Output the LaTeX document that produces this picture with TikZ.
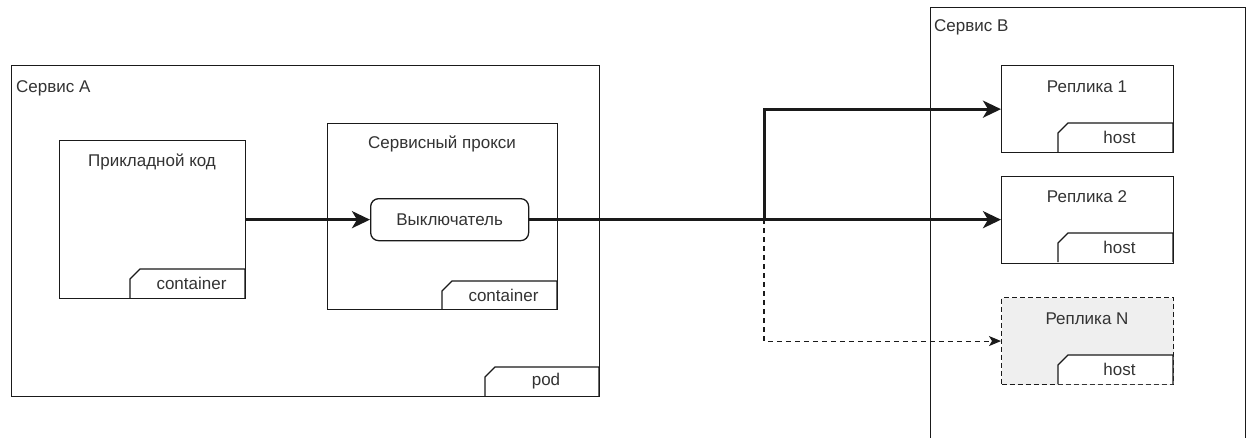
\documentclass[tikz,border=0pt]{standalone}
\usepackage{fontspec}
\setmainfont{Liberation Sans}
\usetikzlibrary{arrows.meta}
\definecolor{ink}{HTML}{1A1A1A}
\definecolor{txt}{HTML}{333333}
\definecolor{ghost}{HTML}{EFEFEF}
\newcommand\tabshape[6]{%
  \draw[tabline] (#1,#4) -- (#1,#2+10) -- (#1+10,#2) -- (#3,#2) -- (#3,#4);
  \node[lbl] (#6) at ({(#1+#3)/2+4},{(#2+#4)/2}) {#5};}
\begin{document}
\begin{tikzpicture}[x=1pt,y=-1pt,
  box/.style={draw=ink, line width=1.3pt, fill=white, inner sep=0pt, anchor=north west},
  tabline/.style={draw=ink, line width=1.3pt},
  lbl/.style={font=\fontsize{17}{20}\selectfont, text=txt, inner sep=0pt},
  main/.style={draw=ink, line width=3pt, -{Stealth[length=18pt,width=17pt,inset=5pt]}},
  dasharrow/.style={draw=ink, line width=1.1pt, dash pattern=on 5pt off 4pt, -{Stealth[length=12pt,width=10pt,inset=3pt]}}
]
\useasboundingbox (0,0) rectangle (1251,437);
\clip (0,0) rectangle (1251,437);
% Service A
\node[box, minimum width=588pt, minimum height=331pt] (sa) at (11,65) {};
\node[lbl, anchor=west] (salbl) at (16,88) {Сервис A};
\tabshape{485}{367}{599}{396}{pod}{podlbl}
% application code
\node[box, minimum width=186pt, minimum height=158pt] (code) at (59,140) {};
\node[lbl] (codelbl) at (152,162) {Прикладной код};
\tabshape{130}{269}{245}{298}{container}{c1lbl}
% service proxy
\node[box, minimum width=230pt, minimum height=186pt] (proxy) at (327,123) {};
\node[lbl] (proxylbl) at (442,144) {Сервисный прокси};
\tabshape{442}{281}{557}{309}{container}{c2lbl}
\node[box, rounded corners=8pt, minimum width=158pt, minimum height=42pt] (sw) at (370,198) {};
\node[lbl] (swlbl) at (sw.center) {Выключатель};
% Service B
\node[box, minimum width=315pt, minimum height=450pt] (sb) at (930,7) {};
\node[lbl, anchor=west] (sblbl) at (934,27) {Сервис B};
% replicas
\node[box, minimum width=172pt, minimum height=87pt] (r1) at (1001,65) {};
\node[lbl] (r1lbl) at (1087,87) {Реплика 1};
\tabshape{1058}{123}{1173}{152}{host}{h1}
\node[box, minimum width=172pt, minimum height=87pt] (r2) at (1001,176) {};
\node[lbl] (r2lbl) at (1087,197) {Реплика 2};
\tabshape{1058}{233}{1173}{262}{host}{h2}
\node[box, fill=ghost, dash pattern=on 5pt off 3pt, line width=1.1pt, minimum width=172pt, minimum height=87pt] (rn) at (1001,297) {};
\node[lbl] (rnlbl) at (1087,319) {Реплика N};
\fill[white] (1058,384) -- (1058,365) -- (1068,355) -- (1173,355) -- (1173,384) -- cycle;
\tabshape{1058}{355}{1173}{384}{host}{hn}
% connectors
\coordinate (br) at (764,219);
\draw[main] (code.east) -- (sw.west);
\draw[main] (sw.east) -- (sw.east -| r2.west);
\draw[main] (br) |- (r1.west);
\draw[dasharrow] (br) |- (rn.west);
\end{tikzpicture}
\end{document}
